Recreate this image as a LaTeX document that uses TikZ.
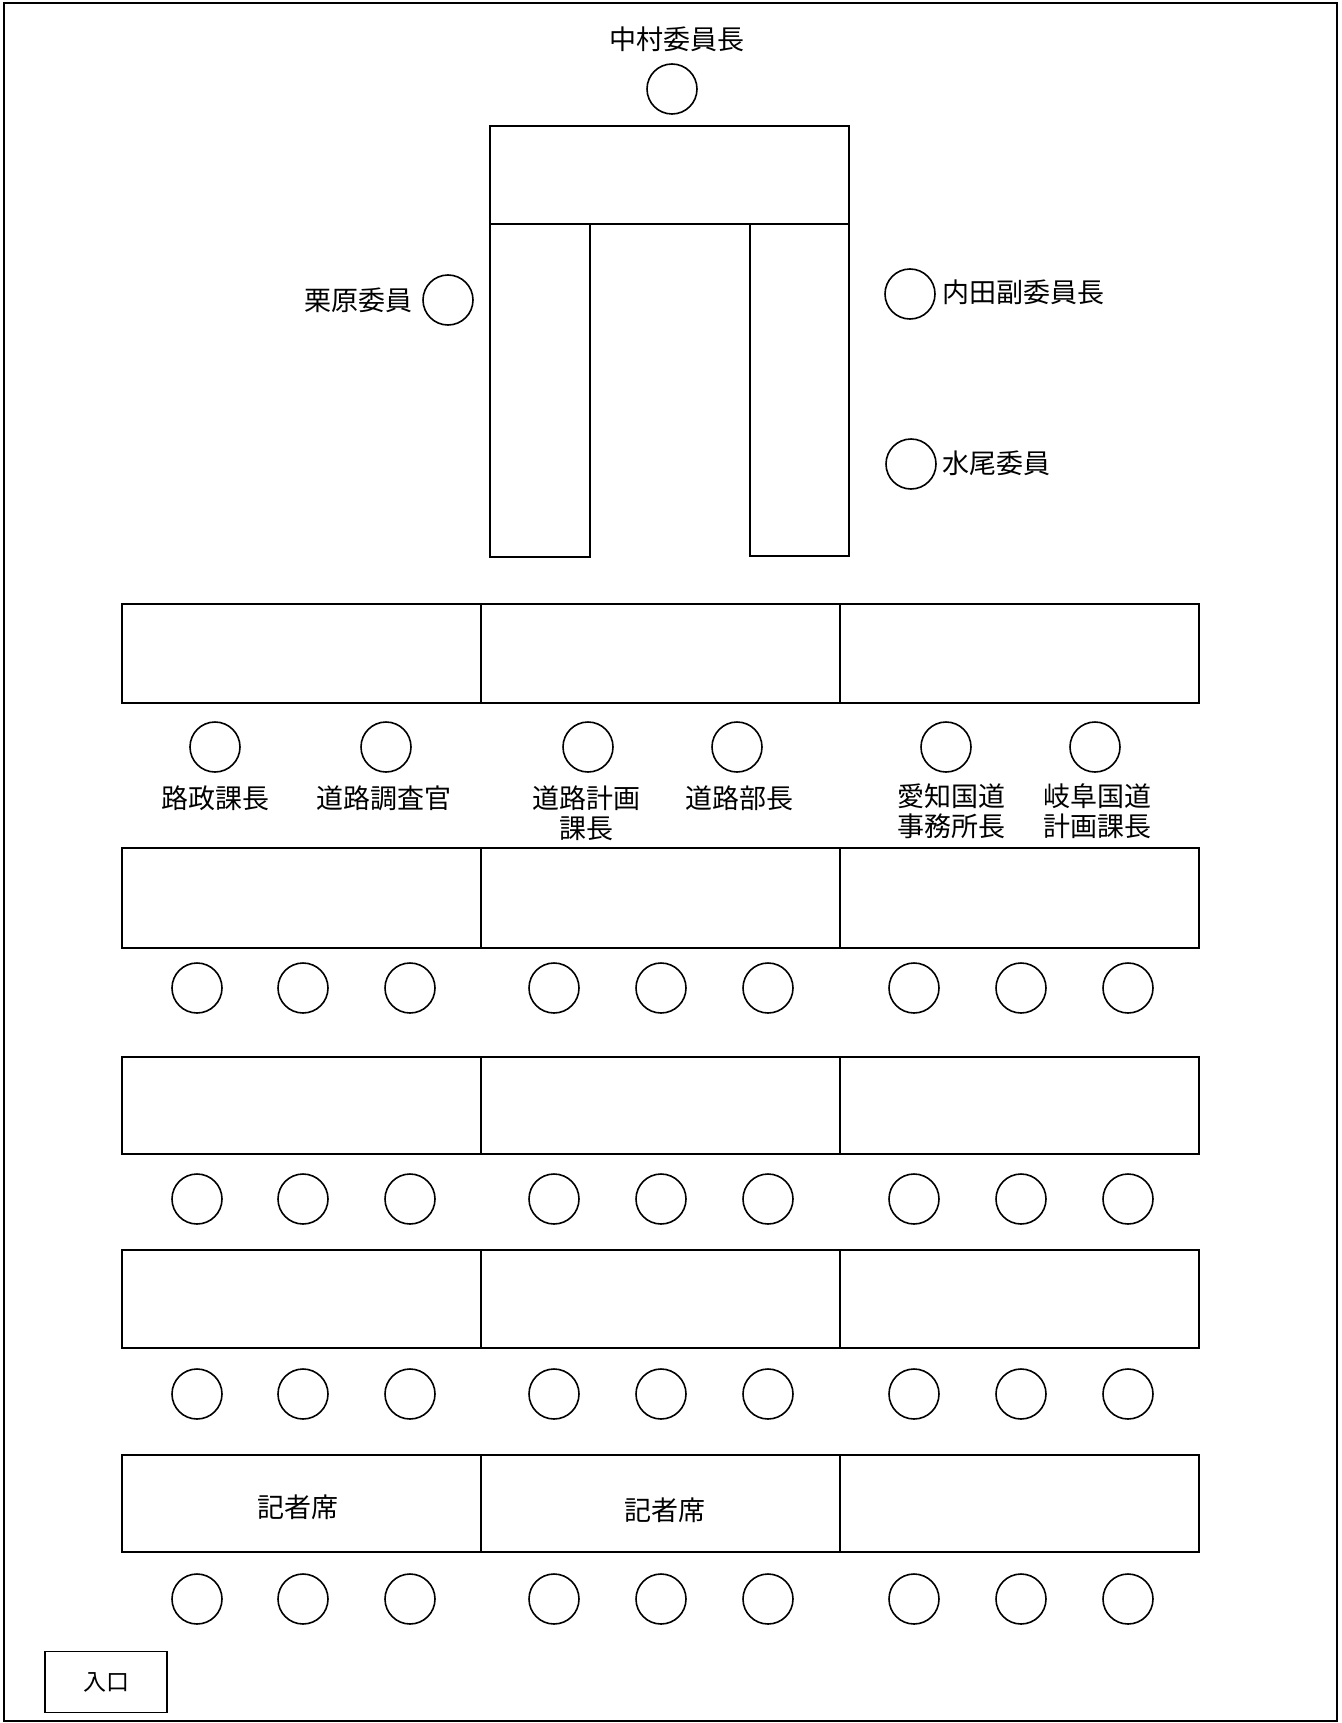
\documentclass[tikz,border=0pt]{standalone}
\usepackage{fontspec}
\newfontfamily\jp{Noto Sans CJK JP}
\begin{document}
\begin{tikzpicture}[x=1pt,y=-1pt,
  seat/.style={circle,draw,line width=1.6pt,minimum size=50pt,inner sep=0pt},
  tbl/.style={draw,line width=1.6pt},
  lbl/.style={font=\jp\fontsize{27}{30}\selectfont,inner sep=0pt,align=center}]
\useasboundingbox (0,0) rectangle (1341,1723);
\draw[line width=1.6pt] (4,3) rectangle (1337,1721);
% head table
\draw[tbl] (490,126) rectangle (849,224);
\draw[tbl] (490,224) rectangle (590,557);
\draw[tbl] (750,224) rectangle (849,556);
% committee
\node[seat] (s0) at (672,89) {};
\node[lbl] (l0) at (677,39) {中村委員長};
\node[seat] (s1) at (448,300) {};
\node[lbl,anchor=east] (l1) at (413,300) {栗原委員};
\node[seat] (s2) at (910,294) {};
\node[lbl,anchor=west] (l2) at (942,292) {内田副委員長};
\node[seat] (s3) at (911,464) {};
\node[lbl,anchor=west] (l3) at (942,463) {水尾委員};
% rows of tables
\foreach \r/\t/\b in {1/604/703, 2/848/948, 3/1057/1154, 4/1250/1348, 5/1455/1552}{
  \draw[tbl] (122,\t) rectangle (481,\b);
  \draw[tbl] (481,\t) rectangle (840,\b);
  \draw[tbl] (840,\t) rectangle (1199,\b);
}
% row 1 seats
\foreach \i/\x in {1/215,2/386,3/588,4/737,5/946,6/1095}{
  \node[seat] (a\i) at (\x,747) {};
}
\node[lbl] (la1) at (215,798) {路政課長};
\node[lbl] (la2) at (384,798) {道路調査官};
\node[lbl] (la3) at (586,813) {道路計画\\課長};
\node[lbl] (la4) at (739,798) {道路部長};
\node[lbl] (la5) at (951,811) {愛知国道\\事務所長};
\node[lbl] (la6) at (1097,811) {岐阜国道\\計画課長};
% other seat rows
\foreach \r/\y in {b/988, c/1199, d/1394, e/1599}{
  \foreach \i/\x in {1/197,2/303,3/410,4/554,5/661,6/768,7/914,8/1021,9/1128}{
    \node[seat] (\r\i) at (\x,\y) {};
  }
}
\node[lbl] (k1) at (298,1507) {記者席};
\node[lbl] (k2) at (665,1510) {記者席};
% entrance
\node[draw,line width=1.6pt,minimum width=122pt,minimum height=61pt,inner sep=0pt,font=\jp\fontsize{23}{26}\selectfont] (door) at (106,1682) {入口};
\end{tikzpicture}
\end{document}
